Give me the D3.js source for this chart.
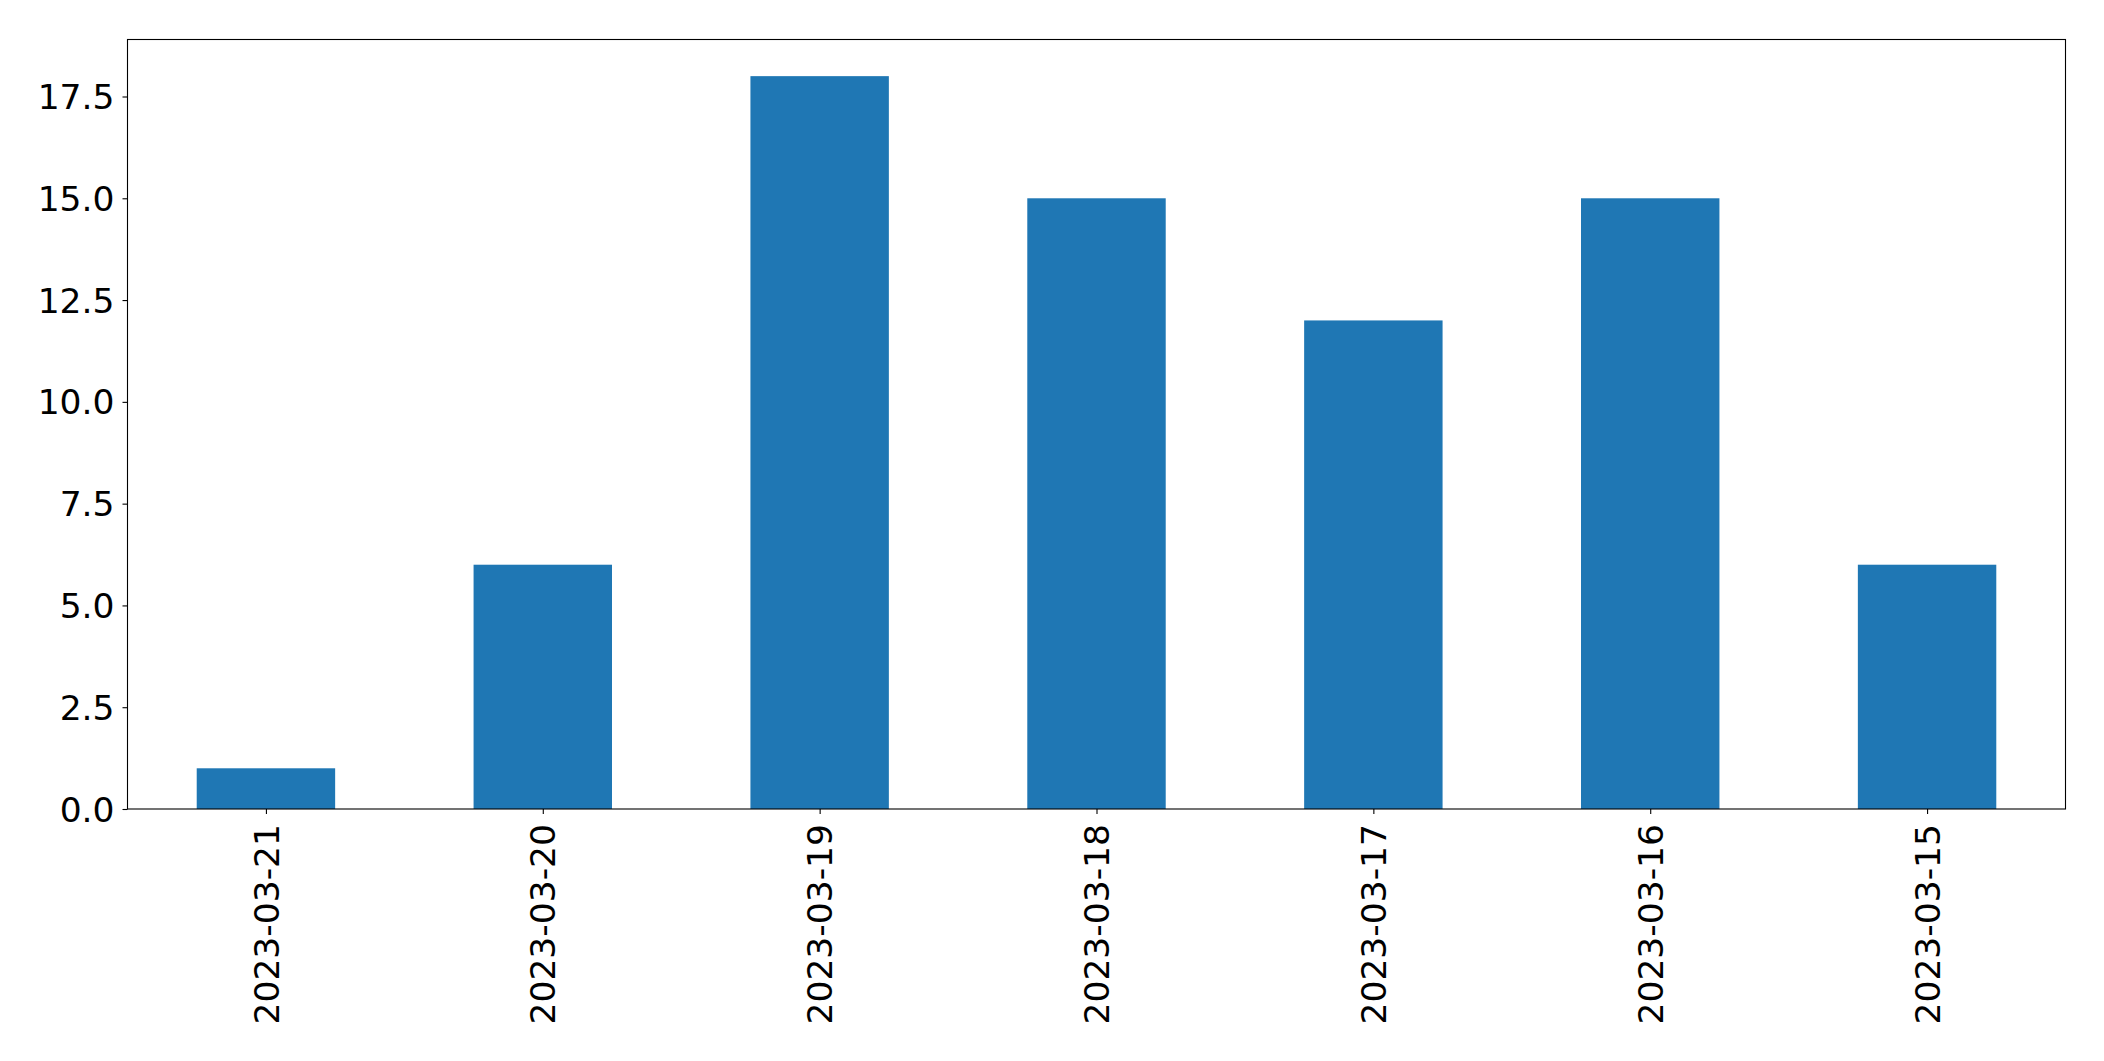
<!DOCTYPE html>
<html><head><meta charset="utf-8">
<script src="https://cdn.jsdelivr.net/npm/d3@7"></script>
<style>body{margin:0;background:#fff}svg{display:block}</style>
</head><body>
<svg id="c" width="2104" height="1061"></svg>
<script>
const categories = ["2023-03-21","2023-03-20","2023-03-19","2023-03-18","2023-03-17","2023-03-16","2023-03-15"];
const values = [1, 6, 18, 15, 12, 15, 6];
const yTicks = [0, 2.5, 5, 7.5, 10, 12.5, 15, 17.5];

const W = 2104, H = 1061;
const m = {left: 127.5, right: 2065.5, top: 39.5, bottom: 809};
const svg = d3.select("#c");
const font = "DejaVu Sans";
const fs = 34.5;

const x = d3.scaleLinear().domain([-0.5, categories.length - 0.5]).range([m.left, m.right]);
const y = d3.scaleLinear().domain([0, 18.9]).range([m.bottom, m.top]);

svg.append("g").selectAll("rect").data(values).join("rect")
  .attr("x", (d,i) => x(i - 0.25))
  .attr("width", (d,i) => x(i + 0.25) - x(i - 0.25))
  .attr("y", d => y(d))
  .attr("height", d => y(0) - y(d))
  .attr("fill", "#1f77b4");

// frame
svg.append("rect").attr("x", m.left).attr("y", m.top)
  .attr("width", m.right - m.left).attr("height", m.bottom - m.top)
  .attr("fill", "none").attr("stroke", "#000").attr("stroke-width", 1.1);

// y axis
const yAxis = d3.axisLeft(y).tickValues(yTicks).tickFormat(d3.format(".1f")).tickSize(5).tickPadding(8);
const gy = svg.append("g").attr("transform", `translate(${m.left},0)`).call(yAxis);
gy.select(".domain").remove();
gy.selectAll("line").attr("stroke", "#000").attr("stroke-width", 1.1);
gy.selectAll("text").attr("font-family", font).attr("font-size", fs).attr("fill", "#000").attr("dy", "0.35em");

// x axis
const xAxis = d3.axisBottom(x).tickValues(d3.range(categories.length)).tickFormat(i => categories[i]).tickSize(5).tickPadding(0);
const gx = svg.append("g").attr("transform", `translate(0,${m.bottom})`).call(xAxis);
gx.select(".domain").remove();
gx.selectAll("line").attr("stroke", "#000").attr("stroke-width", 1.1);
gx.selectAll("text").attr("font-family", font).attr("font-size", fs).attr("fill", "#000")
  .attr("transform", "translate(0,15) rotate(-90)")
  .attr("text-anchor", "end").attr("x", 0).attr("y", 0).attr("dy", "0.35em");
</script>
</body></html>
